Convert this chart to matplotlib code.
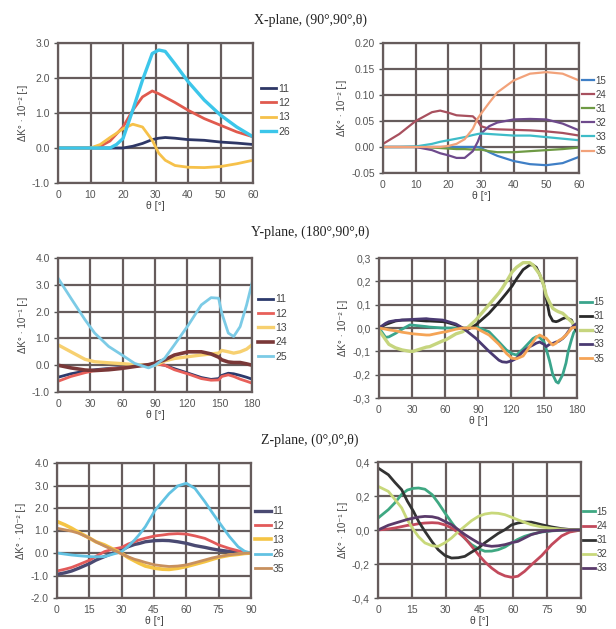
import matplotlib
matplotlib.use("Agg")
import matplotlib.pyplot as plt
import numpy as np

# ---------------- X-plane, left ----------------
xl_theta = [0, 5, 10, 13, 16, 18, 20, 23, 26, 29, 31, 33, 36, 40, 45, 50, 55, 60]
xl_11 = [0, 0, 0, 0, 0, 0, 0.0, 0.05, 0.13, 0.24, 0.28, 0.3, 0.28, 0.24, 0.22, 0.17, 0.14, 0.1]
xl_12 = [0, 0, 0, 0.05, 0.2, 0.4, 0.6, 1.08, 1.46, 1.63, 1.55, 1.45, 1.3, 1.08, 0.84, 0.65, 0.46, 0.32]
xl_13 = [0, 0, 0, 0.1, 0.3, 0.42, 0.55, 0.68, 0.6, 0.22, -0.15, -0.35, -0.5, -0.55, -0.56, -0.53, -0.45, -0.35]
xl_26 = [0, 0, 0, 0, 0, 0.1, 0.27, 1.08, 1.94, 2.7, 2.8, 2.76, 2.4, 1.9, 1.37, 0.94, 0.6, 0.32]

# ---------------- X-plane, right ----------------
xr_theta = [0, 5, 10, 15, 17.5, 20, 22.5, 25, 27.5, 29, 30, 32.5, 35, 40, 45, 50, 55, 60]
xr_15 = [0, 0, 0, 0, 0, 0, 0, 0, 0, 0, -0.002, -0.01, -0.017, -0.027, -0.033, -0.035, -0.031, -0.019]
xr_24 = [0.006, 0.025, 0.05, 0.067, 0.07, 0.066, 0.061, 0.06, 0.059, 0.05, 0.04, 0.035, 0.034, 0.033, 0.032, 0.03, 0.027, 0.022]
xr_31 = [0, 0, 0, -0.001, -0.002, -0.003, -0.004, -0.004, -0.005, -0.005, -0.005, -0.008, -0.01, -0.01, -0.008, -0.006, -0.004, -0.001]
xr_32 = [0, 0, 0, -0.006, -0.012, -0.016, -0.021, -0.021, -0.008, 0.01, 0.026, 0.04, 0.047, 0.053, 0.054, 0.053, 0.045, 0.032]
xr_33 = [0, 0, 0.001, 0.006, 0.01, 0.013, 0.016, 0.019, 0.023, 0.025, 0.026, 0.025, 0.024, 0.022, 0.022, 0.019, 0.016, 0.013]
xr_35 = [0, 0, 0, 0, 0, 0.002, 0.006, 0.015, 0.035, 0.055, 0.064, 0.085, 0.105, 0.128, 0.141, 0.144, 0.141, 0.128]

# ---------------- Y-plane, left ----------------
yl_theta = [0, 12, 25, 34, 47, 59, 71, 84, 90, 99, 108, 121, 133, 142, 149, 152, 158, 163, 169, 175, 180]
yl_11 = [-0.45, -0.32, -0.22, -0.17, -0.12, -0.08, -0.03, 0.02, 0.05, 0.0, -0.13, -0.3, -0.46, -0.53, -0.5, -0.38, -0.3, -0.32, -0.38, -0.45, -0.52]
yl_12 = [-0.6, -0.42, -0.28, -0.2, -0.14, -0.1, -0.04, 0.02, 0.05, 0.0, -0.17, -0.33, -0.5, -0.56, -0.55, -0.42, -0.36, -0.42, -0.52, -0.6, -0.67]
yl_13 = [0.76, 0.5, 0.22, 0.13, 0.09, 0.06, 0.02, 0.0, 0.0, 0.16, 0.25, 0.32, 0.38, 0.42, 0.45, 0.55, 0.5, 0.45, 0.5, 0.6, 0.76]
yl_24 = [0.0, -0.1, -0.18, -0.2, -0.17, -0.12, -0.05, 0.02, 0.08, 0.2, 0.38, 0.5, 0.5, 0.42, 0.3, 0.2, 0.12, 0.1, 0.1, 0.05, 0.0]
yl_25 = [3.25, 2.5, 1.7, 1.2, 0.7, 0.39, 0.07, -0.1, 0.0, 0.26, 0.76, 1.5, 2.25, 2.52, 2.5, 1.94, 1.2, 1.07, 1.44, 2.25, 3.06]

# ---------------- Y-plane, right ----------------
yr_theta = [0, 6, 9, 15, 21, 28, 31, 43, 46, 58, 61, 70, 76, 79, 88, 100, 109, 112, 116, 121, 125, 131, 137, 140, 143, 146, 150, 152, 155, 158, 161, 163, 167, 170, 172, 175, 177, 180]
yr_15 = [0, -0.04, -0.038, -0.023, -0.005, 0.013, 0.012, 0.006, 0.004, 0.0, 0.0, 0.0, 0.0, 0.0, 0.005, -0.016, -0.06, -0.075, -0.095, -0.11, -0.116, -0.09, -0.06, -0.045, -0.037, -0.04, -0.06, -0.09, -0.14, -0.2, -0.23, -0.236, -0.2, -0.15, -0.1, -0.05, -0.02, 0.0]
yr_31 = [0, 0.015, 0.02, 0.03, 0.034, 0.034, 0.034, 0.03, 0.03, 0.027, 0.025, 0.013, 0.0, -0.01, 0.013, 0.063, 0.11, 0.127, 0.15, 0.18, 0.21, 0.25, 0.27, 0.27, 0.26, 0.23, 0.18, 0.13, 0.056, 0.03, 0.027, 0.03, 0.04, 0.045, 0.04, 0.034, 0.01, -0.016]
yr_32 = [-0.01, -0.05, -0.07, -0.085, -0.094, -0.1, -0.1, -0.082, -0.08, -0.055, -0.05, -0.025, -0.016, -0.005, 0.034, 0.1, 0.15, 0.17, 0.2, 0.24, 0.26, 0.28, 0.28, 0.27, 0.25, 0.23, 0.18, 0.14, 0.11, 0.084, 0.075, 0.07, 0.063, 0.05, 0.04, 0.027, 0.015, 0.006]
yr_33 = [0, 0.02, 0.027, 0.032, 0.034, 0.036, 0.037, 0.04, 0.038, 0.034, 0.03, 0.017, 0.0, -0.01, -0.044, -0.1, -0.138, -0.145, -0.147, -0.14, -0.13, -0.1, -0.08, -0.073, -0.065, -0.06, -0.07, -0.08, -0.07, -0.066, -0.06, -0.058, -0.045, -0.03, -0.016, 0.0, 0.01, 0.02]
yr_35 = [0, -0.005, -0.008, -0.012, -0.018, -0.023, -0.025, -0.03, -0.03, -0.018, -0.016, -0.005, 0.0, 0.0, 0.0, -0.03, -0.07, -0.087, -0.11, -0.13, -0.132, -0.12, -0.08, -0.06, -0.04, -0.03, -0.04, -0.044, -0.06, -0.073, -0.065, -0.055, -0.044, -0.03, -0.02, 0.0, 0.002, 0.004]

# ---------------- Z-plane, left ----------------
zl_theta = [0, 3.7, 6.8, 10, 15.3, 18, 22, 26, 30, 33, 36, 38, 41, 45.5, 49, 52, 56, 60, 64, 68.6, 72, 75, 80, 84, 87, 90]
zl_11 = [-0.95, -0.88, -0.8, -0.68, -0.46, -0.32, -0.16, 0.0, 0.13, 0.28, 0.38, 0.42, 0.5, 0.55, 0.56, 0.55, 0.5, 0.43, 0.33, 0.25, 0.18, 0.13, 0.07, 0.03, 0.01, 0.0]
zl_12 = [-0.8, -0.72, -0.64, -0.52, -0.31, -0.15, 0.06, 0.17, 0.25, 0.4, 0.5, 0.58, 0.66, 0.76, 0.8, 0.84, 0.86, 0.84, 0.76, 0.65, 0.5, 0.36, 0.2, 0.1, 0.04, 0.0]
zl_13 = [1.4, 1.25, 1.1, 0.92, 0.65, 0.5, 0.36, 0.17, -0.01, -0.2, -0.35, -0.45, -0.58, -0.68, -0.72, -0.73, -0.68, -0.6, -0.5, -0.38, -0.28, -0.19, -0.1, -0.06, -0.02, 0.0]
zl_26 = [0.0, -0.05, -0.09, -0.12, -0.16, -0.17, -0.16, -0.05, 0.06, 0.3, 0.58, 0.8, 1.17, 1.9, 2.3, 2.64, 2.98, 3.1, 2.87, 2.28, 1.8, 1.39, 0.73, 0.28, 0.08, 0.0]
zl_35 = [1.1, 1.03, 0.97, 0.88, 0.65, 0.5, 0.31, 0.14, -0.04, -0.17, -0.28, -0.33, -0.42, -0.53, -0.57, -0.6, -0.58, -0.53, -0.43, -0.31, -0.22, -0.16, -0.08, -0.04, -0.01, 0.0]

# ---------------- Z-plane, right ----------------
zr_theta = [0, 4.6, 7.5, 10.5, 13, 15.7, 18, 20.8, 24, 26.7, 29.7, 32.6, 35.6, 38.5, 41.5, 44.5, 47.4, 50.4, 53.3, 56.3, 59.2, 62, 65, 68, 72.6, 77, 81.4, 85, 90]
zr_15 = [0.07, 0.12, 0.16, 0.21, 0.235, 0.245, 0.247, 0.24, 0.208, 0.16, 0.1, 0.045, -0.008, -0.05, -0.086, -0.11, -0.125, -0.124, -0.116, -0.1, -0.076, -0.055, -0.037, -0.025, -0.012, -0.005, -0.002, 0.0, 0.0]
zr_24 = [0.0, 0.006, 0.012, 0.02, 0.027, 0.031, 0.037, 0.041, 0.043, 0.041, 0.03, 0.012, -0.015, -0.047, -0.095, -0.145, -0.188, -0.224, -0.252, -0.27, -0.278, -0.272, -0.243, -0.205, -0.15, -0.086, -0.035, -0.012, 0.0]
zr_31 = [0.365, 0.325, 0.28, 0.237, 0.17, 0.11, 0.05, -0.008, -0.07, -0.116, -0.15, -0.165, -0.163, -0.155, -0.13, -0.106, -0.075, -0.047, -0.02, 0.002, 0.03, 0.041, 0.047, 0.046, 0.031, 0.018, 0.008, 0.003, 0.0]
zr_32 = [0.257, 0.227, 0.18, 0.13, 0.06, 0.002, -0.04, -0.076, -0.093, -0.096, -0.075, -0.047, -0.01, 0.022, 0.055, 0.08, 0.094, 0.1, 0.098, 0.09, 0.075, 0.06, 0.045, 0.031, 0.018, 0.01, 0.005, 0.002, 0.0]
zr_33 = [0.0, 0.028, 0.04, 0.052, 0.062, 0.07, 0.076, 0.08, 0.078, 0.07, 0.05, 0.031, 0.002, -0.027, -0.052, -0.076, -0.09, -0.096, -0.093, -0.086, -0.075, -0.067, -0.047, -0.027, -0.01, -0.004, -0.001, 0.0, 0.0]

GRID = "#665c5c"
plt.rcParams["font.family"] = ["Liberation Sans", "DejaVu Sans"]

fig = plt.figure(figsize=(6.16, 6.29), dpi=100)
W, H = 616.0, 629.0


def make_ax(l, r, t, b):
    return fig.add_axes([l / W, 1 - b / H, (r - l) / W, (b - t) / H])


def style(ax, xlim, xticks, ylim, yticks, fmt, comma=False, ylabel="ΔK° · 10⁻² [-]"):
    ax.set_xlim(*xlim)
    ax.set_ylim(*ylim)
    ax.set_xticks(xticks)
    ax.set_yticks(yticks)
    labs = [fmt % v for v in yticks]
    if comma:
        labs = [s.replace(".", ",") for s in labs]
    ax.set_yticklabels(labs)
    ax.set_xticklabels([str(int(v)) for v in xticks])
    ax.grid(True, color=GRID, lw=1.6)
    ax.set_axisbelow(True)
    for s in ax.spines.values():
        s.set_color(GRID)
        s.set_linewidth(1.6)
    ax.tick_params(axis="both", labelsize=7.5, colors="#555555", length=3, width=1, direction="out", pad=3)
    ax.tick_params(axis="x", length=0, pad=5)
    ax.set_xlabel("θ [°]", fontsize=7.5, color="#444444", labelpad=1)
    ax.set_ylabel(ylabel, fontsize=7, color="#444444", labelpad=3)


def legend(ax, x, y, hl=1.5, fs=7.5):
    leg = ax.legend(loc="upper left", bbox_to_anchor=(x, y), frameon=False, fontsize=fs,
                    handlelength=hl, handletextpad=0.2, labelspacing=0.42, borderaxespad=0,
                    borderpad=0)
    for t in leg.get_texts():
        t.set_color("#444444")


lw = 2.0

# X-plane left
ax1 = make_ax(58, 253, 43, 183)
ax1.plot(xl_theta, xl_11, color="#2e3766", lw=lw, label="11")
ax1.plot(xl_theta, xl_12, color="#e05a4e", lw=lw, label="12")
ax1.plot(xl_theta, xl_13, color="#f6c14a", lw=lw, label="13")
ax1.plot(xl_theta, xl_26, color="#3cc6ea", lw=2.4, label="26")
style(ax1, (0, 60), [0, 10, 20, 30, 40, 50, 60], (-1, 3), [-1, 0, 1, 2, 3], "%.1f")
legend(ax1, 1.04, 0.71)

# X-plane right
ax2 = make_ax(383, 579, 43, 173)
ax2.plot(xr_theta, xr_15, color="#3f7fc6", lw=1.6, label="15")
ax2.plot(xr_theta, xr_24, color="#a8505e", lw=1.6, label="24")
ax2.plot(xr_theta, xr_31, color="#6e9a44", lw=1.6, label="31")
ax2.plot(xr_theta, xr_32, color="#6e4a8c", lw=1.6, label="32")
ax2.plot(xr_theta, xr_33, color="#3ebcc8", lw=1.6, label="33")
ax2.plot(xr_theta, xr_35, color="#f2a27a", lw=1.6, label="35")
style(ax2, (0, 60), [0, 10, 20, 30, 40, 50, 60], (-0.05, 0.20), [-0.05, 0.0, 0.05, 0.10, 0.15, 0.20], "%.2f")
legend(ax2, 1.015, 0.75, hl=1.2, fs=7)

# Y-plane left
ax3 = make_ax(58, 252, 258, 392)
ax3.plot(yl_theta, yl_11, color="#2c3a6c", lw=lw, label="11")
ax3.plot(yl_theta, yl_12, color="#e8605a", lw=lw, label="12")
ax3.plot(yl_theta, yl_13, color="#f7d070", lw=2.4, label="13")
ax3.plot(yl_theta, yl_24, color="#7a3838", lw=2.6, label="24")
ax3.plot(yl_theta, yl_25, color="#7ccbe6", lw=lw, label="25")
style(ax3, (0, 180), [0, 30, 60, 90, 120, 150, 180], (-1, 4), [-1, 0, 1, 2, 3, 4], "%.1f",
      ylabel="ΔK° · 10⁻¹ [-]")
legend(ax3, 1.03, 0.73)

# Y-plane right
ax4 = make_ax(379, 577, 258, 398)
ax4.plot(yr_theta, yr_15, color="#3aa58c", lw=lw, label="15")
ax4.plot(yr_theta, yr_31, color="#2a2a2a", lw=lw, label="31")
ax4.plot(yr_theta, yr_32, color="#c6d57e", lw=2.4, label="32")
ax4.plot(yr_theta, yr_33, color="#4a3a72", lw=lw, label="33")
ax4.plot(yr_theta, yr_35, color="#f5a456", lw=lw, label="35")
style(ax4, (0, 180), [0, 30, 60, 90, 120, 150, 180], (-0.3, 0.3), [-0.3, -0.2, -0.1, 0.0, 0.1, 0.2, 0.3], "%.1f",
      comma=True, ylabel="ΔK° · 10⁻² [-]")
legend(ax4, 1.015, 0.72, hl=1.2, fs=7)

# Z-plane left
ax5 = make_ax(57, 251, 463, 598)
ax5.plot(zl_theta, zl_11, color="#4a4a72", lw=2.4, label="11")
ax5.plot(zl_theta, zl_12, color="#e25a5a", lw=lw, label="12")
ax5.plot(zl_theta, zl_13, color="#f5c444", lw=2.6, label="13")
ax5.plot(zl_theta, zl_26, color="#62c2e2", lw=lw, label="26")
ax5.plot(zl_theta, zl_35, color="#c8905e", lw=lw, label="35")
style(ax5, (0, 90), [0, 15, 30, 45, 60, 75, 90], (-2, 4), [-2, -1, 0, 1, 2, 3, 4], "%.1f",
      ylabel="ΔK° · 10⁻² [-]")
legend(ax5, 1.02, 0.68)

# Z-plane right
ax6 = make_ax(378, 581, 462, 598)
ax6.plot(zr_theta, zr_15, color="#3fa882", lw=lw, label="15")
ax6.plot(zr_theta, zr_24, color="#c24a5c", lw=lw, label="24")
ax6.plot(zr_theta, zr_31, color="#333333", lw=lw, label="31")
ax6.plot(zr_theta, zr_32, color="#c8d87a", lw=lw, label="32")
ax6.plot(zr_theta, zr_33, color="#5a3a6a", lw=lw, label="33")
style(ax6, (0, 90), [0, 15, 30, 45, 60, 75, 90], (-0.4, 0.4), [-0.4, -0.2, 0.0, 0.2, 0.4], "%.1f",
      comma=True, ylabel="ΔK° · 10⁻¹ [-]")
legend(ax6, 1.01, 0.67, hl=1.2, fs=7)

# Section titles
tfont = dict(family=["Liberation Serif", "DejaVu Serif"], fontsize=10, color="#222222", ha="center", va="center")
fig.text(310 / W, 1 - 20 / H, "X-plane, (90°,90°,θ)", **tfont)
fig.text(310 / W, 1 - 232 / H, "Y-plane, (180°,90°,θ)", **tfont)
fig.text(310 / W, 1 - 440 / H, "Z-plane, (0°,0°,θ)", **tfont)

fig.savefig("out.png", dpi=100, facecolor="white")
